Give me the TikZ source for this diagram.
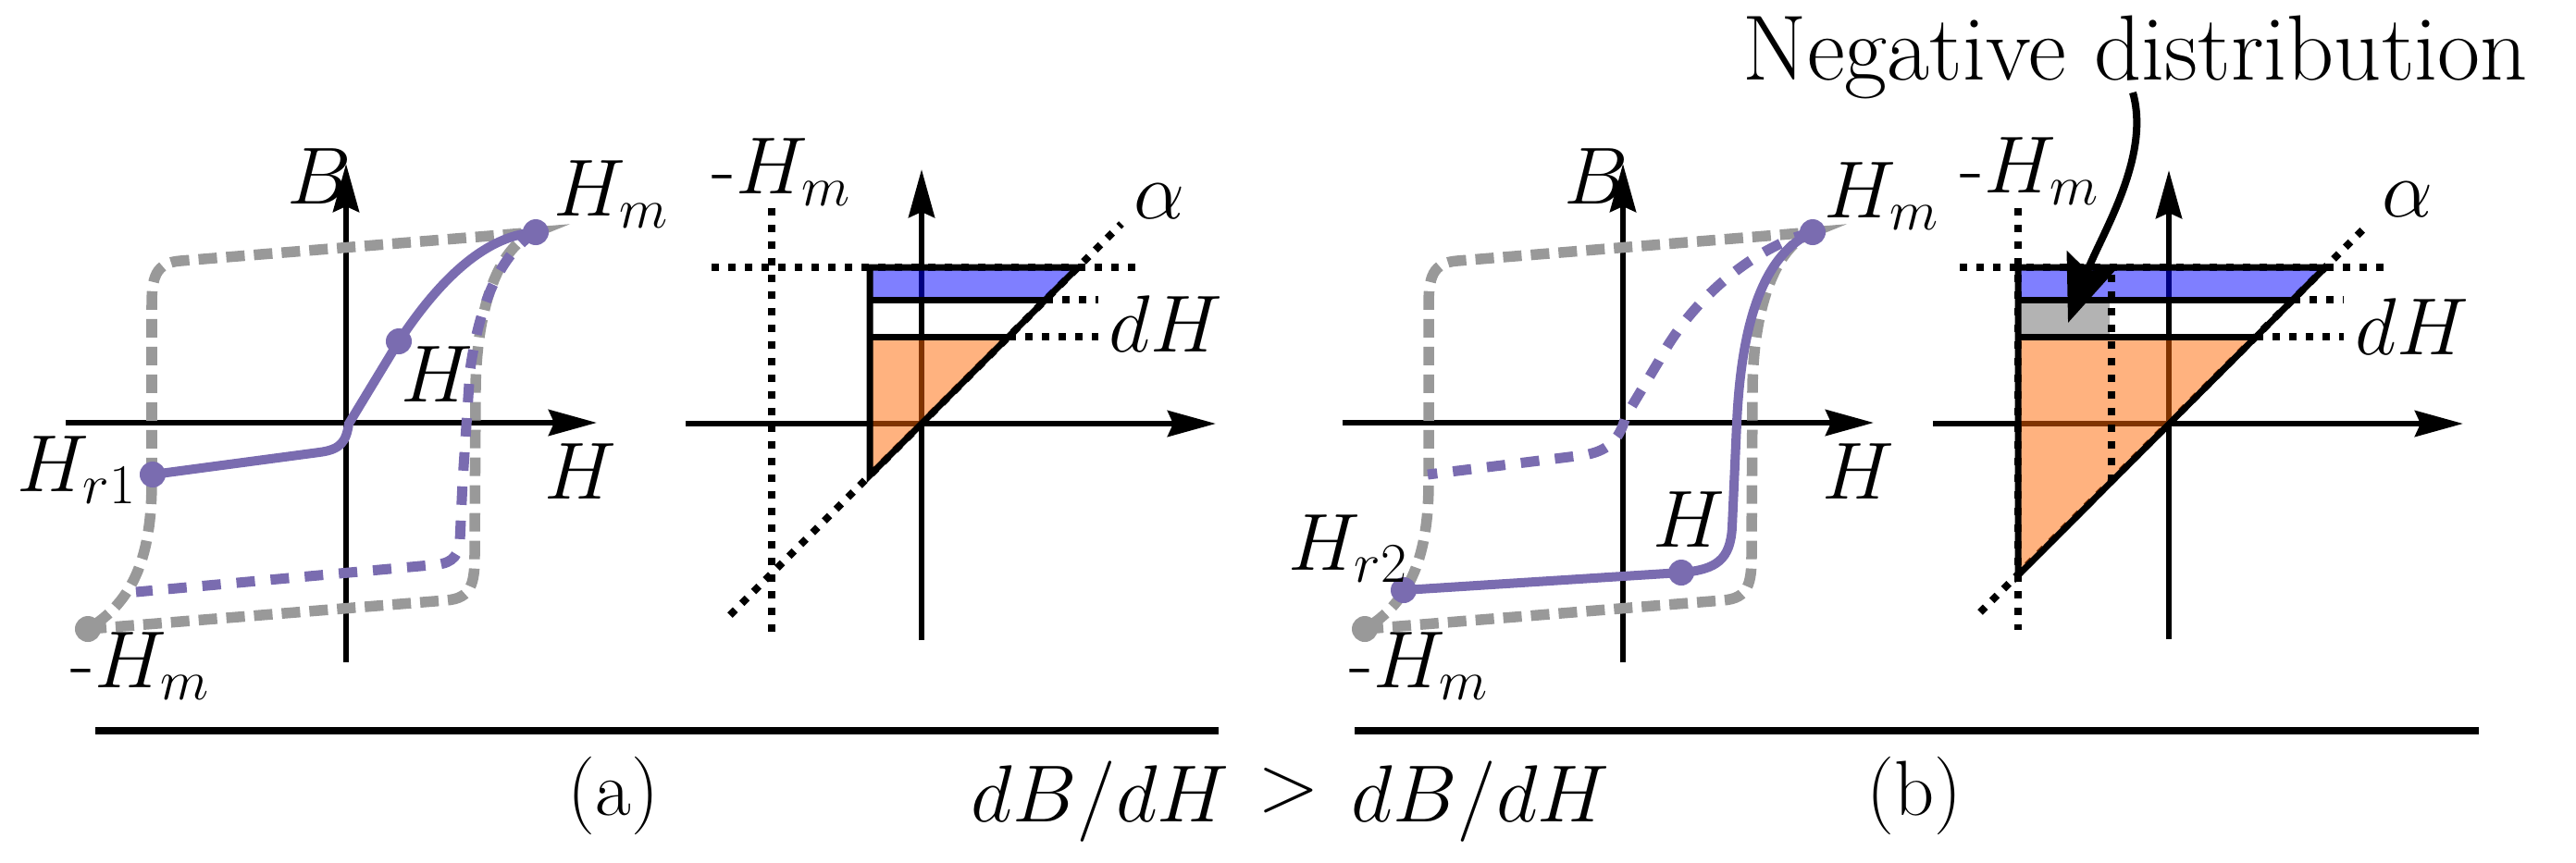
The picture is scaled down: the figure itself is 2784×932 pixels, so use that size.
\documentclass[tikz,border=0pt]{standalone}
\usepackage{tikz}
\usetikzlibrary{arrows.meta}

\definecolor{purp}{RGB}{122,108,176}
\definecolor{loopgray}{RGB}{153,153,153}
\definecolor{graybox}{RGB}{179,179,179}
\definecolor{orangefill}{RGB}{255,102,0}

\begin{document}
\begin{tikzpicture}[x=0.01cm, y=-0.01cm, font=\fontsize{24}{29}\selectfont,
    lbl/.style={anchor=base west, inner sep=0pt},
    axis/.style={line width=0.06cm, -{Stealth[length=0.52cm, width=0.28cm, inset=0.06cm]}},
    majorloop/.style={draw=loopgray, line width=0.115cm, dash pattern=on 0.2cm off 0.1cm},
    minorsolid/.style={draw=purp, line width=0.1cm},
    minordashed/.style={draw=purp, line width=0.11cm, dash pattern=on 0.2cm off 0.17cm},
    dotline/.style={line width=0.08cm, dash pattern=on 0.08cm off 0.1cm},
    edgeline/.style={line width=0.07cm},
    blueband/.style={fill=blue, fill opacity=0.5},
    orangeband/.style={fill=orangefill, fill opacity=0.5}]
\useasboundingbox (0,0) rectangle (2784,932);

% (a) B-H plane
\draw [axis] (  71, 457) -- ( 645, 457);
\draw [axis] ( 374, 716) -- ( 374, 177);
\draw [majorloop] (95,680) -- (482,649) .. controls (510,647) and (513,630) .. (513,600)
    -- (514,420) .. controls (515,330) and (540,265) .. (579,251)
    -- (195,282) .. controls (168,284) and (164,300) .. (164,330)
    -- (164,520) .. controls (164,600) and (145,650) .. (95,680);
\draw [minordashed] (579,251) .. controls (540,275) and (518,330) .. (508,400)
    -- (500,520) -- (497,585) .. controls (495,605) and (485,610) .. (465,611) -- (147,640);
\draw [minorsolid] (165,513) -- (345,489) .. controls (368,486) and (374,478) .. (377,458)
    -- (431,369) .. controls (470,310) and (520,255) .. (579,251);

\coordinate (hrOne) at (165,513);
\coordinate (hpA)   at (431,369);
\coordinate (hmA)   at (579,251);
\coordinate (mhmA)  at ( 95,680);
\fill [loopgray] (mhmA)  circle [radius=0.14cm];
\fill [purp]     (hrOne) circle [radius=0.14cm];
\fill [purp]     (hpA)   circle [radius=0.14cm];
\fill [purp]     (hmA)   circle [radius=0.14cm];

\node [lbl] (bA)    at ( 310, 220) {$B$};
\node [lbl] (hmlA)  at ( 598, 233) {$H_m$};
\node [lbl] (hlA)   at ( 433, 434) {$H$};
\node [lbl] (haxA)  at ( 588, 539) {$H$};
\node [lbl] (hrlA)  at (  18, 531) {$H_{r1}$};
\node [lbl] (mhmlA) at (  76, 743) {-$H_m$};

% (a) Preisach plane
\draw [axis] ( 741, 458) -- (1314, 458);
\draw [axis] ( 996, 692) -- ( 996, 183);
\draw [dotline] ( 834, 225) -- ( 834, 684);
\draw [dotline] ( 769, 289) -- (1231, 289);
\draw [dotline] (1130, 324) -- (1187, 324);
\draw [dotline] (1090, 364) -- (1187, 364);
\draw [dotline] ( 789, 665) -- (1212, 242);
\fill [blueband] (940,292) -- (1162,292) -- (1132,322) -- (940,322) -- cycle;
\fill [orangeband] (940,366) -- (1088,366) -- (940,514) -- cycle;
\draw [edgeline] (1165,289) -- (940,289) -- (940,514) -- cycle;
\draw [edgeline] (940,324) -- (1130,324);
\draw [edgeline] (940,364) -- (1090,364);

\node [lbl] (mhmlC) at ( 769, 209) {-$H_m$};
\node [lbl] (alC)   at (1225, 236) {$\alpha$};
\node [lbl] (dhC)   at (1198, 380) {$dH$};

% (b) B-H plane
\draw [axis] (1451, 457) -- (2025, 457);
\draw [axis] (1754, 716) -- (1754, 177);
\draw [majorloop, shift={(1380,0)}] (95,680) -- (482,649) .. controls (510,647) and (513,630) .. (513,600)
    -- (514,420) .. controls (515,330) and (540,265) .. (579,251)
    -- (195,282) .. controls (168,284) and (164,300) .. (164,330)
    -- (164,520) .. controls (164,600) and (145,650) .. (95,680);
\draw [minordashed] (1959,251) .. controls (1900,265) and (1830,320) .. (1793,390)
    -- (1757,450) .. controls (1750,478) and (1735,488) .. (1712,492) -- (1543,513);
\draw [minorsolid] (1517,638) -- (1817,619) .. controls (1855,616) and (1870,605) .. (1872,570)
    -- (1877,457) .. controls (1882,350) and (1905,275) .. (1959,251);

\coordinate (hrTwo) at (1517,638);
\coordinate (hpB)   at (1817,619);
\coordinate (hmB)   at (1959,251);
\coordinate (mhmB)  at (1475,680);
\fill [loopgray] (mhmB)  circle [radius=0.14cm];
\fill [purp]     (hrTwo) circle [radius=0.14cm];
\fill [purp]     (hpB)   circle [radius=0.14cm];
\fill [purp]     (hmB)   circle [radius=0.14cm];

\node [lbl] (bB)    at (1690, 220) {$B$};
\node [lbl] (hmlB)  at (1971, 235) {$H_m$};
\node [lbl] (hlB)   at (1786, 591) {$H$};
\node [lbl] (haxB)  at (1969, 539) {$H$};
\node [lbl] (hrlB)  at (1392, 616) {$H_{r2}$};
\node [lbl] (mhmlB) at (1458, 743) {-$H_m$};

% (b) Preisach plane
\draw [axis] (2089, 458) -- (2662, 458);
\draw [axis] (2344, 691) -- (2344, 184);
\draw [dotline] (2181, 225) -- (2181, 681);
\draw [dotline] (2118, 289) -- (2579, 289);
\draw [dotline] (2478, 324) -- (2533, 324);
\draw [dotline] (2438, 364) -- (2533, 364);
\draw [dotline] (2140, 662) -- (2558, 244);
\fill [blueband] (2181,292) -- (2510,292) -- (2480,322) -- (2181,322) -- cycle;
\fill [graybox] (2181,326) rectangle (2280,361);
\fill [orangeband] (2181,366) -- (2436,366) -- (2181,621) -- cycle;
\draw [dotline] (2282, 297) -- (2282, 520);
\draw [edgeline] (2513,289) -- (2181,289) -- (2181,622) -- cycle;
\draw [edgeline] (2181,324) -- (2478,324);
\draw [edgeline] (2181,364) -- (2438,364);

\node [lbl] (mhmlD) at (2118, 208) {-$H_m$};
\node [lbl] (alD)   at (2574, 234) {$\alpha$};
\node [lbl] (dhD)   at (2545, 383) {$dH$};

% negative distribution
\node [lbl, font=\fontsize{28.5}{34}\selectfont] (negdist) at (1883, 86) {Negative distribution};
\coordinate (negtip) at (2235,349);
\draw [line width=0.08cm, -{Stealth[length=0.72cm, width=0.56cm, inset=0.12cm]}]
    ([shift={(422,14)}]negdist.base west) .. controls (2325,170) and (2270,255) .. (negtip);

% captions
\draw [line width=0.08cm] ( 103, 790) -- (1317, 790);
\draw [line width=0.08cm] (1464, 790) -- (2679, 790);
\node [anchor=base, inner sep=0pt] (capA)   at ( 663, 881) {(a)};
\node [lbl]                        (ratioA) at (1049, 888) {$dB/dH$};
\node [anchor=base, inner sep=0pt] (gt)     at (1393, 876) {$>$};
\node [lbl]                        (ratioB) at (1460, 888) {$dB/dH$};
\node [anchor=base, inner sep=0pt] (capB)   at (2069, 881) {(b)};
\end{tikzpicture}
\end{document}
